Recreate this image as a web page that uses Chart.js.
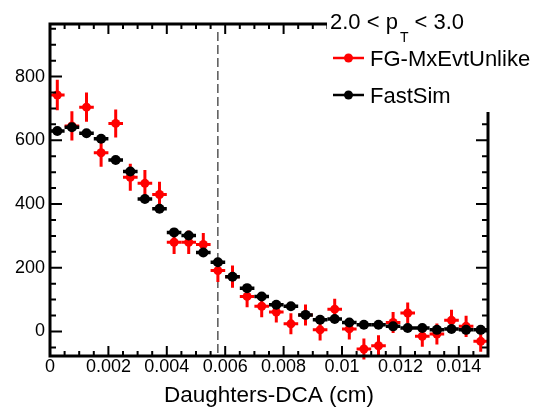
<!DOCTYPE html>
<html>
<head>
<meta charset="utf-8">
<script src="https://cdn.jsdelivr.net/npm/chart.js@4/dist/chart.umd.min.js"></script>
<style>
html,body{margin:0;padding:0;background:#fff;}
#c{display:block;}
</style>
</head>
<body>
<canvas id="c" width="541" height="409"></canvas>
<script>
// ---- data ----
const xBins = [0.00025,0.00075,0.00125,0.00175,0.00225,0.00275,0.00325,0.00375,0.00425,0.00475,
               0.00525,0.00575,0.00625,0.00675,0.00725,0.00775,0.00825,0.00875,0.00925,0.00975,
               0.01025,0.01075,0.01125,0.01175,0.01225,0.01275,0.01325,0.01375,0.01425,0.01475];
const fgValues = [742,645,704,561,653,484,465,430,280,280,
                  273,191,172,110,79,61,24,52,5,70,
                  8,-55,-45,28,58,-15,-8,35,16,-31];
const fgErrors = [48,46,46,44,44,42,42,40,37,37,
                  36,36,35,34,34,33,33,33,33,33,
                  33,33,33,33,33,33,33,33,33,33];
const simValues = [629,641,622,605,538,502,416,385,311,301,
                   248,217,172,136,110,84,79,52,37,39,
                   28,21,21,16,11,11,5,8,5,5];
const simErrors = [6,6,6,6,6,6,5,5,5,5,
                   4,4,4,4,3,3,3,3,3,3,
                   2,2,2,2,2,2,2,2,2,2];
const xTickValues = [0,0.002,0.004,0.006,0.008,0.010,0.012,0.014];
const yTickValues = [0,200,400,600,800];
const seriesNames = ['FG-MxEvtUnlike','FastSim'];
const cutValue = 0.00575;
const halfBin = 0.00025;

const FONT = "'Liberation Sans', Arial, Helvetica, sans-serif";

const toPoints = (vals) => xBins.map((x,i)=>({x:x, y:vals[i]}));

const errPlugin = {
  id:'errbars',
  beforeDatasetDraw(chart, args){
    const ds = chart.data.datasets[args.index];
    const xs = chart.scales.x, ys = chart.scales.y, ctx = chart.ctx;
    ctx.save();
    ctx.strokeStyle = ds.backgroundColor;
    ctx.lineWidth = ds.errWidth;
    ds.data.forEach((p,i)=>{
      const e = ds.errs[i];
      const px = xs.getPixelForValue(p.x), py = ys.getPixelForValue(p.y);
      ctx.beginPath();
      ctx.moveTo(xs.getPixelForValue(p.x-halfBin), py);
      ctx.lineTo(xs.getPixelForValue(p.x+halfBin), py);
      ctx.moveTo(px, ys.getPixelForValue(p.y-e));
      ctx.lineTo(px, ys.getPixelForValue(p.y+e));
      ctx.stroke();
    });
    ctx.restore();
  }
};

const framePlugin = {
  id:'frame',
  beforeDatasetsDraw(chart){
    const {ctx, chartArea:a, scales:{x:xs}} = chart;
    const px = xs.getPixelForValue(cutValue);
    ctx.save();
    ctx.strokeStyle = '#000';
    ctx.lineWidth = 1;
    ctx.setLineDash([9,4]);
    ctx.beginPath();
    ctx.moveTo(px, a.top+8);
    ctx.lineTo(px, a.bottom);
    ctx.stroke();
    ctx.restore();
  },
  afterDatasetsDraw(chart){
    const {ctx, chartArea:a, scales:{x:xs, y:ys}} = chart;
    ctx.save();
    ctx.strokeStyle = '#000';
    ctx.lineWidth = 2;
    ctx.beginPath();
    for (let k=0;k<=30;k++){
      const v = k*0.0005;
      const p = xs.getPixelForValue(v);
      const major = (k%4===0);
      const len = major ? 10 : 5;
      ctx.moveTo(p, a.bottom); ctx.lineTo(p, a.bottom-len);
      ctx.moveTo(p, a.top); ctx.lineTo(p, a.top+len);
    }
    for (let v=-50; v<=950; v+=50){
      const p = ys.getPixelForValue(v);
      const major = (v%200===0);
      const len = major ? 12 : 6;
      ctx.moveTo(a.left, p); ctx.lineTo(a.left+len, p);
      ctx.moveTo(a.right, p); ctx.lineTo(a.right-len, p);
    }
    ctx.stroke();
    ctx.lineWidth = 3;
    ctx.strokeRect(a.left, a.top, a.right-a.left, a.bottom-a.top);
    ctx.restore();
  },
  afterDraw(chart){
    const ctx = chart.ctx;
    ctx.save();
    ctx.fillStyle = '#fff';
    ctx.fillRect(327, 0, 541-327, 112);
    ctx.fillStyle = '#000';
    ctx.textBaseline = 'alphabetic';
    ctx.textAlign = 'left';
    ctx.font = '22px ' + FONT;
    ctx.fillText('2.0 < p', 330, 28.5);
    let w = ctx.measureText('2.0 < p').width;
    ctx.font = '14px ' + FONT;
    ctx.fillText('T', 330 + w + 2, 42);
    const wT = ctx.measureText('T').width;
    ctx.font = '22px ' + FONT;
    ctx.fillText(' < 3.0', 330 + w + 2 + wT, 28.5);
    const entries = [{name:seriesNames[0], color:'#ff0000', y:58},
                     {name:seriesNames[1], color:'#000000', y:95}];
    entries.forEach(e=>{
      ctx.strokeStyle = e.color; ctx.fillStyle = e.color;
      ctx.lineWidth = 2.5;
      ctx.beginPath(); ctx.moveTo(333, e.y); ctx.lineTo(364, e.y); ctx.stroke();
      ctx.beginPath(); ctx.arc(348.5, e.y, 4.5, 0, Math.PI*2); ctx.fill();
      ctx.fillStyle = '#000';
      ctx.font = '22px ' + FONT;
      ctx.fillText(e.name, 370, e.y + 8);
    });
    ctx.restore();
  }
};

new Chart(document.getElementById('c'), {
  type:'scatter',
  data:{
    datasets:[
      {label:seriesNames[0], data:toPoints(fgValues), errs:fgErrors, errWidth:3,
       backgroundColor:'#ff0000', borderColor:'#ff0000', pointRadius:4.5, pointBorderWidth:0,
       pointHoverRadius:4.5, order:1},
      {label:seriesNames[1], data:toPoints(simValues), errs:simErrors, errWidth:3.5,
       backgroundColor:'#000000', borderColor:'#000000', pointRadius:5, pointBorderWidth:0,
       pointHoverRadius:5, order:0}
    ]
  },
  options:{
    responsive:false,
    animation:false,
    devicePixelRatio:1,
    events:[],
    layout:{padding:{left:0, right:53, top:24, bottom:0}},
    plugins:{legend:{display:false}, tooltip:{enabled:false}, title:{display:false}},
    scales:{
      x:{
        type:'linear', min:0, max:0.015,
        grid:{display:false, drawTicks:false},
        border:{display:false},
        afterBuildTicks:(s)=>{ s.ticks = xTickValues.map(v=>({value:v})); },
        afterFit:(s)=>{ s.height = 53; },
        ticks:{
          color:'#000', padding:0, maxRotation:0, autoSkip:false,
          font:{family:FONT, size:18},
          callback:(v)=> v===0 ? '0' : String(+Number(v).toFixed(3))
        },
        title:{display:true, text:'Daughters-DCA (cm)', color:'#000',
               font:{family:FONT, size:22.5}, padding:{top:0, bottom:0}}
      },
      y:{
        type:'linear', min:-77, max:965,
        grid:{display:false, drawTicks:false},
        border:{display:false},
        afterBuildTicks:(s)=>{ s.ticks = yTickValues.map(v=>({value:v})); },
        afterFit:(s)=>{ s.width = 50; },
        ticks:{color:'#000', padding:5, font:{family:FONT, size:18},
               callback:(v)=> String(v)}
      }
    }
  },
  plugins:[errPlugin, framePlugin]
});
</script>
</body>
</html>
